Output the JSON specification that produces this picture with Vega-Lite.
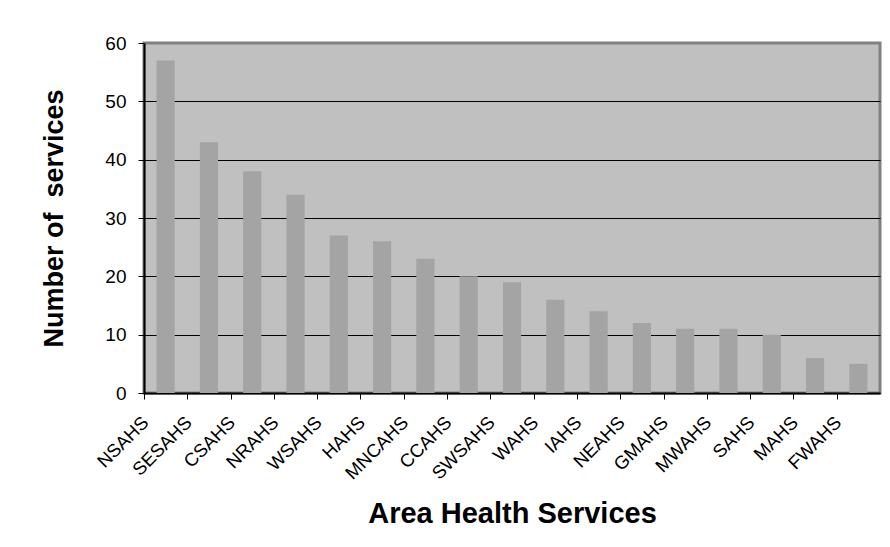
{
  "$schema": "https://vega.github.io/schema/vega-lite/v6.json",
  "autosize": "none",
  "width": 736,
  "height": 350,
  "padding": {"left": 144, "top": 43, "right": 10, "bottom": 154},
  "background": "white",
  "data": {
    "values": [
      {"service": "NSAHS", "count": 57},
      {"service": "SESAHS", "count": 43},
      {"service": "CSAHS", "count": 38},
      {"service": "NRAHS", "count": 34},
      {"service": "WSAHS", "count": 27},
      {"service": "HAHS", "count": 26},
      {"service": "MNCAHS", "count": 23},
      {"service": "CCAHS", "count": 20},
      {"service": "SWSAHS", "count": 19},
      {"service": "WAHS", "count": 16},
      {"service": "IAHS", "count": 14},
      {"service": "NEAHS", "count": 12},
      {"service": "GMAHS", "count": 11},
      {"service": "MWAHS", "count": 11},
      {"service": "SAHS", "count": 10},
      {"service": "MAHS", "count": 6},
      {"service": "FWAHS", "count": 5}
    ]
  },
  "mark": {"type": "bar", "color": "#A4A4A4"},
  "encoding": {
    "x": {
      "field": "service",
      "type": "nominal",
      "sort": null,
      "scale": {"paddingInner": 0.58, "paddingOuter": 0.29},
      "axis": {
        "title": "Area Health Services",
        "titleFont": "Liberation Sans",
        "titleFontSize": 29,
        "titleFontWeight": "bold",
        "titleColor": "black",
        "titlePadding": 17,
        "titleLimit": 700,
        "labelAngle": -45,
        "labelAlign": "right",
        "labelBaseline": "middle",
        "labelFont": "Liberation Sans",
        "labelFontSize": 18.5,
        "labelColor": "black",
        "labelOffset": 1,
        "labelPadding": 20,
        "tickOffset": -21.65,
        "tickColor": "black",
        "tickSize": 6,
        "domainColor": "black",
        "domainWidth": 2,
        "grid": false
      }
    },
    "y": {
      "field": "count",
      "type": "quantitative",
      "scale": {"domain": [0, 60], "nice": false},
      "axis": {
        "title": "Number of\u00a0\u00a0services",
        "values": [0, 10, 20, 30, 40, 50, 60],
        "titleFont": "Liberation Sans",
        "titleFontSize": 27,
        "titleFontWeight": "bold",
        "titleColor": "black",
        "titlePadding": 36,
        "labelFont": "Liberation Sans",
        "labelFontSize": 19,
        "labelColor": "black",
        "labelPadding": 12,
        "tickColor": "black",
        "tickSize": 6,
        "domainColor": "black",
        "domainWidth": 2,
        "grid": true,
        "gridColor": {"condition": {"test": "datum.value == 60", "value": "#808080"}, "value": "black"},
        "gridOpacity": 1,
        "gridWidth": 1
      }
    }
  },
  "config": {
    "view": {"fill": "#C0C0C0", "stroke": "#808080", "strokeWidth": 3}
  }
}
